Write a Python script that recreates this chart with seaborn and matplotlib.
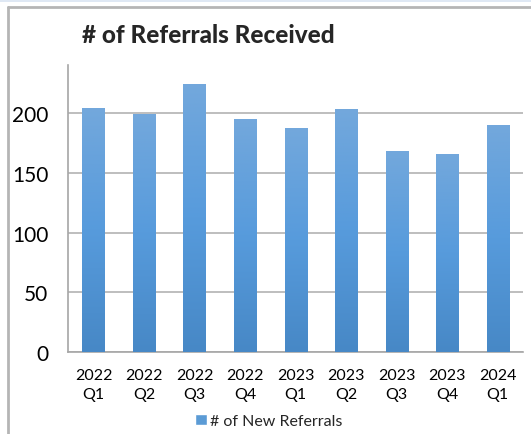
import numpy as np
import pandas as pd
import matplotlib
matplotlib.use("Agg")
import matplotlib.pyplot as plt
from matplotlib.colors import LinearSegmentedColormap
from matplotlib.lines import Line2D
from matplotlib.patches import Rectangle
import seaborn as sns

# data
quarters = ["2022\nQ1", "2022\nQ2", "2022\nQ3", "2022\nQ4", "2023\nQ1",
            "2023\nQ2", "2023\nQ3", "2023\nQ4", "2024\nQ1"]
new_referrals = [204, 199, 224, 195, 187, 203, 168, 166, 190]
y_ticks = [0, 50, 100, 150, 200]

title = "# of Referrals Received"
series_name = "# of New Referrals"

df = pd.DataFrame({"quarter": quarters, "count": new_referrals})

sns.set_theme(style="white")
plt.rcParams["font.family"] = ["Lato", "DejaVu Sans"]

W, H = 531, 435
fig = plt.figure(figsize=(W / 100, H / 100), dpi=100)
ax = fig.add_axes([68.3 / W, 1 - 353.3 / H, (523 - 68.3) / W, (353.3 - 66) / H])

sns.barplot(data=df, x="quarter", y="count", color="#5b9bd5", width=0.44,
            ax=ax, zorder=3)

# gradient fill in each bar (light at top, darker at bottom)
grad = LinearSegmentedColormap.from_list("bar", ["#4788c6", "#579bdc", "#73a8dc"])
ax.set_ylim(0, 240)
for p in ax.patches:
    x0, y0 = p.get_x(), p.get_y()
    w, h = p.get_width(), p.get_height()
    img = ax.imshow(np.linspace(0, 1, 256).reshape(-1, 1), cmap=grad, origin="lower",
                    extent=[x0, x0 + w, y0, y0 + h], aspect="auto", zorder=3)
    img.set_clip_path(p)
    p.set_facecolor("none")
    p.set_edgecolor("none")
ax.set_xlim(-0.5, len(quarters) - 0.5)
ax.set_ylim(0, 240)

ax.set_yticks(y_ticks)
ax.yaxis.grid(True, color="#b3b3b3", linewidth=1.2, zorder=0)
ax.set_axisbelow(True)
for s in ["top", "right"]:
    ax.spines[s].set_visible(False)
for s in ["left", "bottom"]:
    ax.spines[s].set_color("#a6a6a6")
    ax.spines[s].set_linewidth(1.2)
ax.set_xlabel("")
ax.set_ylabel("")
ax.tick_params(axis="y", labelsize=15, pad=14.5, colors="black", length=0)
ax.tick_params(axis="x", labelsize=11.5, pad=11, colors="black", length=0)
for lbl in ax.get_xticklabels():
    lbl.set_linespacing(1.5)

fig.text(82 / W, 1 - 36 / H, title, fontsize=17.5, fontweight="black", va="center", ha="left")

handle = Rectangle((0, 0), 1, 1, facecolor="#5b9bd5")
fig.legend([handle], [series_name], loc="center", bbox_to_anchor=(269 / W, 1 - 422 / H),
           frameon=False, fontsize=11.5, handlelength=0.75, handleheight=0.75,
           handletextpad=0.2, borderpad=0)

# outer frame like the screenshot
fig.patches.append(Rectangle((0, 1 - 2.5 / H), 1, 2.5 / H, transform=fig.transFigure,
                             facecolor="#dfe8f4", edgecolor="none"))
fig.lines.append(Line2D([7.5 / W, 1], [1 - 7.5 / H, 1 - 7.5 / H], transform=fig.transFigure,
                        color="#b5b5b5", linewidth=2))
fig.lines.append(Line2D([7.5 / W, 7.5 / W], [0, 1 - 7.5 / H], transform=fig.transFigure,
                        color="#b5b5b5", linewidth=2))

fig.savefig("out.png", dpi=100)
